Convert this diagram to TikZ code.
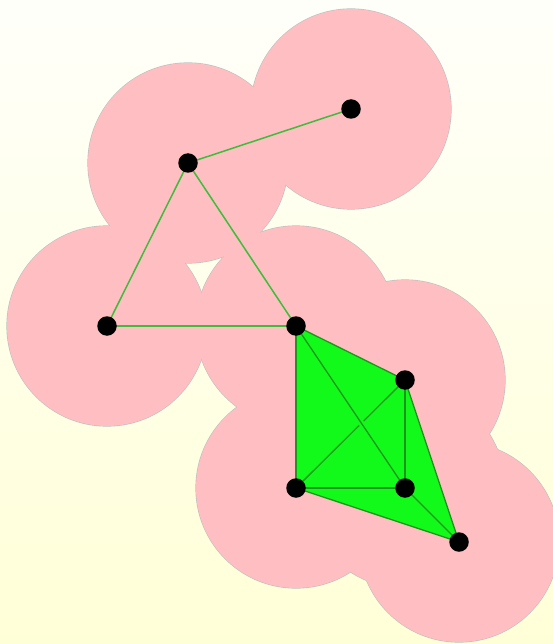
\documentclass[tikz,border=0pt]{standalone}
\begin{document}
\begin{tikzpicture}[x=1pt,y=-1pt,
  dot/.style={circle,fill=black,inner sep=0pt,minimum size=19.5pt},
  edge/.style={draw=edgec,line width=1.5pt},
  inedge/.style={draw=inedgec,line width=1.3pt}]
\definecolor{pinkc}{RGB}{255,190,193}
\definecolor{greenc}{RGB}{17,250,25}
\definecolor{edgec}{RGB}{60,190,60}
\definecolor{inedgec}{RGB}{30,150,30}
\useasboundingbox (0,0) rectangle (553,644);
\shade[top color={rgb,255:red,255;green,255;blue,250},bottom color={rgb,255:red,255;green,255;blue,215}] (0,0) rectangle (553,644);
\coordinate (pA) at (351,109);
\coordinate (pB) at (188,163);
\coordinate (pC) at (107,326);
\coordinate (pD) at (296,326);
\coordinate (pE) at (405,380);
\coordinate (pF) at (296,488);
\coordinate (pG) at (405,488);
\coordinate (pH) at (459,542);
\foreach \p in {pA,pB,pC,pD,pE,pF,pG,pH}{\draw[gray!50,line width=1.2pt] (\p) circle[radius=100];}
\foreach \p in {pA,pB,pC,pD,pE,pF,pG,pH}{\fill[pinkc] (\p) circle[radius=100];}
\fill[greenc] (pD) -- (pE) -- (pH) -- (pF) -- cycle;
\draw[edge] (pA) -- (pB);
\draw[edge] (pB) -- (pC);
\draw[edge] (pB) -- (pD);
\draw[edge] (pC) -- (pD);
\draw[inedge] (pD) -- (pE);
\draw[inedge] (pD) -- (pF);
\draw[inedge] (pE) -- (pF);
\draw[greenc,line width=6pt,shorten >=20pt,shorten <=20pt] (pD) -- (pG);
\draw[inedge] (pD) -- (pG);
\draw[inedge] (pE) -- (pG);
\draw[inedge] (pF) -- (pG);
\draw[inedge] (pG) -- (pH);
\draw[inedge] (pE) -- (pH);
\draw[inedge] (pF) -- (pH);
\foreach \p in {A,B,C,D,E,F,G,H}{\node[dot] (n\p) at (p\p) {};}
\end{tikzpicture}
\end{document}
